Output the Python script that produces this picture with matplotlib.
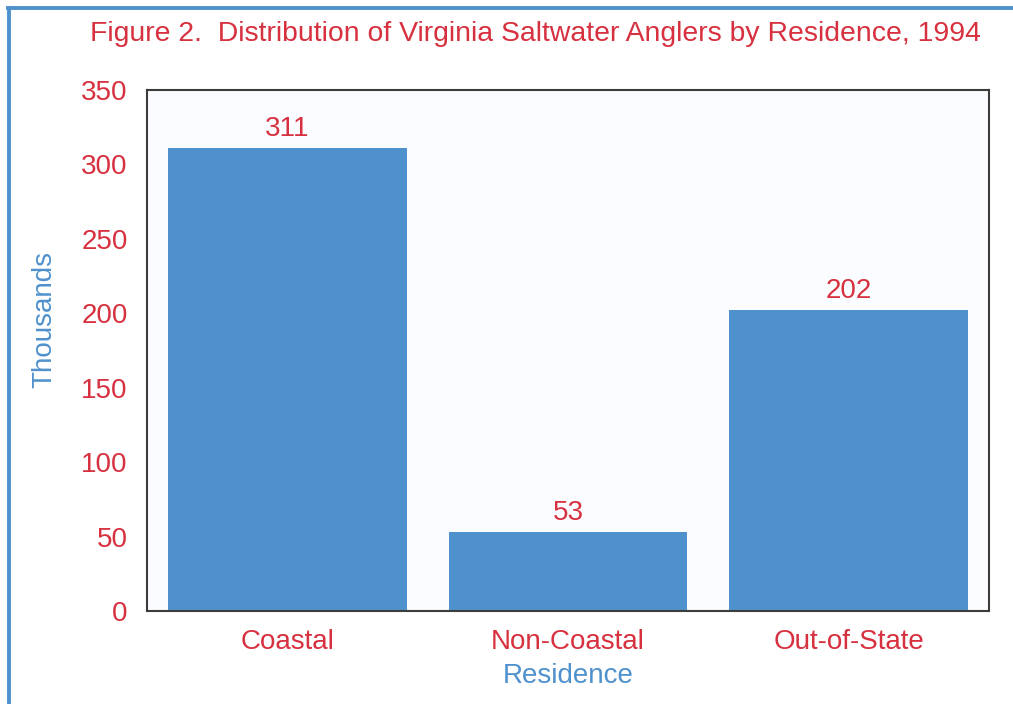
import matplotlib
matplotlib.use("Agg")
import matplotlib.pyplot as plt
from matplotlib.lines import Line2D

plt.rcParams['font.family'] = ['Liberation Sans', 'DejaVu Sans']

# dados
categorias = ['Coastal', 'Non-Coastal', 'Out-of-State']
valores = [311, 53, 202]
yticks = [0, 50, 100, 150, 200, 250, 300, 350]

vermelho = '#D7303F'
azul = '#4F91CD'
fs = 20

fig = plt.figure(figsize=(10.13, 7.04), dpi=100)
ax = fig.add_axes([147 / 1013, 1 - 611 / 704, (989 - 147) / 1013, (611 - 90) / 704])
ax.set_facecolor('#FAFCFF')

x = range(len(categorias))
barras = ax.bar(x, valores, width=0.85, color=azul, zorder=2)
for b, v in zip(barras, valores):
    ax.text(b.get_x() + b.get_width() / 2, v + 4, str(v), ha='center', va='bottom',
            color=vermelho, fontsize=fs)

ax.set_xlim(-0.5, 2.5)
ax.set_ylim(0, 350)
ax.set_yticks(yticks)
ax.set_xticks(list(x))
ax.set_xticklabels(categorias)
ax.tick_params(axis='both', length=0, labelsize=fs, labelcolor=vermelho)
ax.tick_params(axis='y', pad=14)
ax.tick_params(axis='x', pad=13)
for s in ax.spines.values():
    s.set_color('#3C3C3C')
    s.set_linewidth(1.5)

ax.set_xlabel('Residence', color=azul, fontsize=fs, labelpad=6)
ax.set_ylabel('Thousands', color=azul, fontsize=fs)
ax.yaxis.set_label_coords(-0.107, 0.56)

fig.text(0.529, 1 - 34 / 704, 'Figure 2.  Distribution of Virginia Saltwater Anglers by Residence, 1994',
         ha='center', va='center', color=vermelho, fontsize=20.4)

# moldura azul (esquerda e topo)
fig.add_artist(Line2D([9 / 1013, 9 / 1013], [0, 1 - 7.5 / 704], color=azul, lw=2.8,
                      transform=fig.transFigure))
fig.add_artist(Line2D([7.5 / 1013, 1], [1 - 7.5 / 704, 1 - 7.5 / 704], color=azul, lw=2.8,
                      transform=fig.transFigure))

fig.savefig('out.png', dpi=100, facecolor='w')
